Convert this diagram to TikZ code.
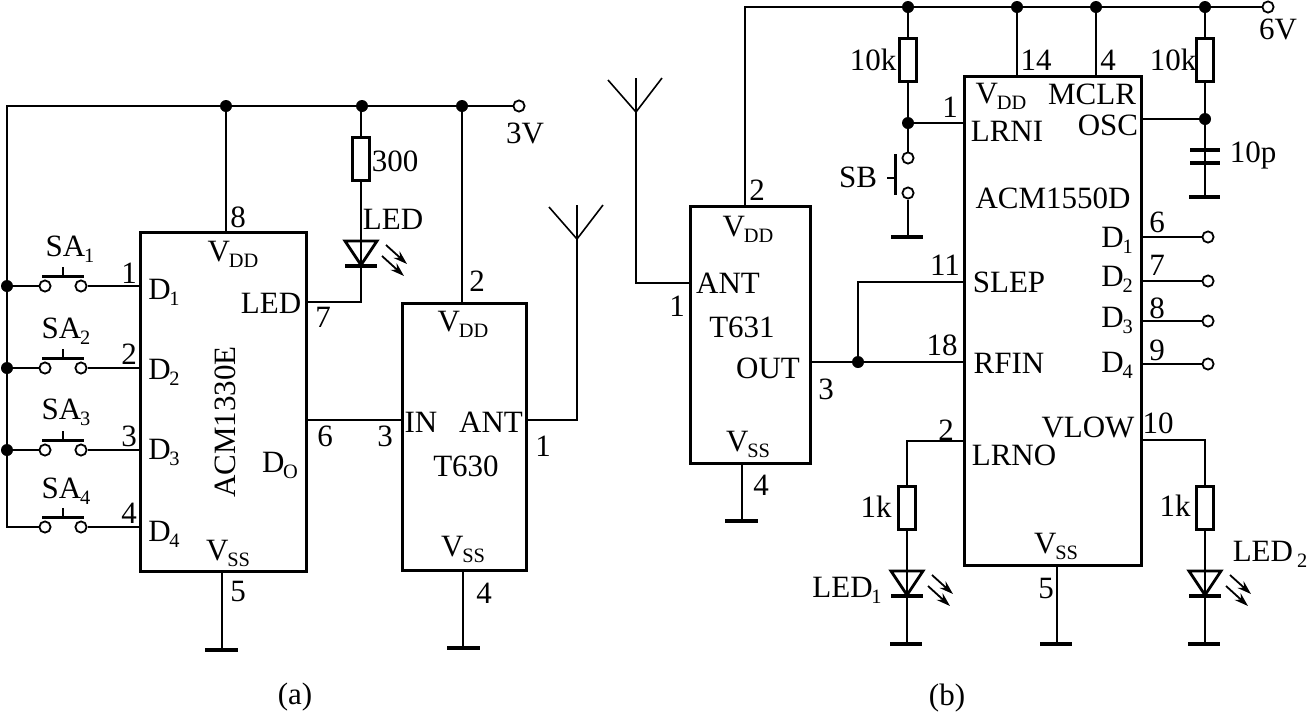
\documentclass[tikz,border=0pt]{standalone}
\usepackage{fontspec}
\setmainfont{Liberation Serif}
\usetikzlibrary{arrows.meta}
\newcommand{\pinsub}[1]{\kern-0.6pt\raisebox{-3pt}{\fontsize{10.2}{11}\selectfont #1}}
\tikzset{
  wire/.style={black,line width=0.8pt},
  chip/.style={draw,black,line width=1.5pt,inner sep=0pt},
  res/.style={draw,black,fill=white,line width=1.5pt,inner sep=0pt,minimum width=8.5pt,minimum height=21.5pt},
  dot/.style={circle,fill=black,inner sep=0pt,minimum size=6pt},
  term/.style={circle,draw,black,fill=white,line width=0.9pt,inner sep=0pt,minimum size=5.6pt},
  txt/.style={inner sep=0pt,font=\fontsize{15.5}{18}\selectfont},
  gnd/.style={black,line width=1.6pt},
  led/.pic={
    \draw[black,line width=1.4pt] (-16,-12) -- (16,-12) -- (0,12) -- cycle;
    \draw[black,line width=1.6pt] (-16,13) -- (16,13);
    \draw[black,line width=0.9pt,-{Stealth[length=7pt,width=4.5pt]}] (25,-8) -- (46,11);
    \draw[black,line width=0.9pt,-{Stealth[length=7pt,width=4.5pt]}] (21,3) -- (43,23);
  },
  pushh/.pic={
    \draw[black,line width=1.5pt] (-21,-10) -- (21,-10);
    \draw[black,line width=0.9pt] (0,-10) -- (0,-19);
  },
  aerial/.pic={
    \draw[black,line width=0.8pt] (-28,-32) -- (0,0) -- (26,-34);
    \draw[black,line width=0.8pt] (0,0) -- (0,-34);
  }
}
\begin{document}
\begin{tikzpicture}[x=0.5pt,y=-0.5pt]
\useasboundingbox (0,0) rectangle (1307,714);
% circuit (a)
\node[chip,minimum width=83pt,minimum height=169.5pt] (ica) at (223,401.5) {};
\node[chip,minimum width=62pt,minimum height=133.5pt] (tx) at (464,436.5) {};
\node[dot] (ta) at (226,106) {};
\node[dot] (tb) at (362,106) {};
\node[dot] (tcc) at (462,106) {};
\node[term] (v3) at (519,106) {};
\node[txt] (v3t) at (525,133) {3V};
\node[dot] (da) at (7,286) {};
\node[dot] (db) at (7,368) {};
\node[dot] (dc) at (7,450) {};
\coordinate (dd) at (7,527);
\node[term] (s1l) at (45,286) {};
\node[term] (s1r) at (81,286) {};
\node[term] (s2l) at (45,368) {};
\node[term] (s2r) at (81,368) {};
\node[term] (s3l) at (45,450) {};
\node[term] (s3r) at (81,450) {};
\node[term] (s4l) at (45,527) {};
\node[term] (s4r) at (81,527) {};
\pic at (63,286) {pushh};
\pic at (63,368) {pushh};
\pic at (63,450) {pushh};
\pic at (63,527) {pushh};
\draw[wire] (v3) -- (7,106) -- (dd) -- (s4l);
\draw[wire] (da) -- (s1l);
\draw[wire] (db) -- (s2l);
\draw[wire] (dc) -- (s3l);
\draw[wire] (s1r) -- (ica.west |- s1r);
\draw[wire] (s2r) -- (ica.west |- s2r);
\draw[wire] (s3r) -- (ica.west |- s3r);
\draw[wire] (s4r) -- (ica.west |- s4r);
\draw[wire] (ta) -- (ta |- ica.north);
\node[res] (r300) at (361,158.5) {};
\coordinate (ledac) at (361,253);
\draw[wire] (361,106) -- (r300);
\draw[wire] (r300) -- (ledac) |- (306,302);
\pic at (ledac) {led};
\draw[wire] (tcc) -- (tcc |- tx.north);
\draw[wire] (306,420) -- (tx.west |- 306,420);
\coordinate (anta) at (577,239);
\pic at (anta) {aerial};
\draw[wire] (526,420) -| (anta);
\coordinate (ga) at (222,650);
\draw[wire] (222,571) -- (ga);
\draw[gnd] (205,650) -- (238,650);
\coordinate (gb) at (463,648);
\draw[wire] (463,570) -- (gb);
\draw[gnd] (447,648) -- (480,648);
% labels of (a)
\node[txt] (sa1) at (70,249) {SA\pinsub{1}};
\node[txt] (sa2) at (66,331) {SA\pinsub{2}};
\node[txt] (sa3) at (66,412) {SA\pinsub{3}};
\node[txt] (sa4) at (66,491) {SA\pinsub{4}};
\node[txt] (a1) at (129,273) {1};
\node[txt] (a2) at (129,354) {2};
\node[txt] (a3) at (129,436) {3};
\node[txt] (a4) at (129,513) {4};
\node[txt] (ad1) at (164,292) {D\pinsub{1}};
\node[txt] (ad2) at (164,372) {D\pinsub{2}};
\node[txt] (ad3) at (164,452) {D\pinsub{3}};
\node[txt] (ad4) at (164,534) {D\pinsub{4}};
\node[txt] (a8) at (238,217) {8};
\node[txt] (avdd) at (233,254) {V\pinsub{DD}};
\node[txt] (aled) at (271,303) {LED};
\node[txt] (a7) at (323,317) {7};
\node[txt] (a6) at (325,436) {6};
\node[txt] (ado) at (280,465) {D\pinsub{O}};
\node[txt,rotate=90] (aname) at (225,422) {ACM1330E};
\node[txt] (avss) at (228,553) {V\pinsub{SS}};
\node[txt] (a5) at (238,591) {5};
\node[txt] (r300t) at (395,161) {300};
\node[txt] (ledt) at (393,219) {LED};
\node[txt] (b2) at (477,281) {2};
\node[txt] (bvdd) at (463,324) {V\pinsub{DD}};
\node[txt] (b3) at (385,436) {3};
\node[txt] (bin) at (421,422) {IN};
\node[txt] (bant) at (491,422) {ANT};
\node[txt] (b1) at (543,446) {1};
\node[txt] (bname) at (466,466) {T630};
\node[txt] (bvss) at (463,549) {V\pinsub{SS}};
\node[txt] (b4) at (484,593) {4};
\node[txt] (capa) at (295,697) {(a)};
% circuit (b)
\node[chip,minimum width=60pt,minimum height=128.5pt] (rx) at (750,334.5) {};
\node[chip,minimum width=88.5pt,minimum height=244.5pt] (icb) at (1052.5,320.5) {};
\coordinate (antb) at (636,112);
\pic at (antb) {aerial};
\draw[wire] (antb) |- (rx.west |- 690,283);
\node[dot] (q1) at (908,7) {};
\node[dot] (q2) at (1017,7) {};
\node[dot] (q3) at (1096,7) {};
\node[dot] (q4) at (1205,7) {};
\node[term] (v6) at (1268,7) {};
\node[txt] (v6t) at (1278,29) {6V};
\draw[wire] (745,206) -- (745,7) -- (v6);
\draw[wire] (q2) -- (q2 |- icb.north);
\draw[wire] (q3) -- (q3 |- icb.north);
\node[res] (r10a) at (908,59.5) {};
\node[res] (r10b) at (1205,59.5) {};
\node[dot] (q5) at (908,123) {};
\node[dot] (q6) at (1205,119) {};
\draw[wire] (q1) -- (r10a);
\draw[wire] (r10a) -- (q5);
\draw[wire] (q4) -- (r10b);
\draw[wire] (r10b) -- (q6);
\draw[wire] (q5) -- (964,123);
\draw[wire] (q6) -- (1141,119);
\node[term] (sbt) at (908,158) {};
\node[term] (sbb) at (908,193) {};
\draw[wire] (q5) -- (sbt);
\draw[wire] (sbb) -- (908,237);
\draw[gnd] (891,237) -- (923,237);
\draw[black,line width=1.5pt] (895,154) -- (895,195);
\draw[black,line width=0.9pt] (887,178) -- (895,178);
\draw[wire] (q6) -- (1205,197);
\draw[gnd] (1190,150) -- (1220,150);
\draw[gnd] (1190,163) -- (1220,163);
\draw[gnd] (1189,197) -- (1220,197);
\node[dot] (q7) at (858,362) {};
\draw[wire] (810,362) -- (964,362);
\draw[wire] (q7) |- (964,282);
\node[term] (o1) at (1208,237) {};
\node[term] (o2) at (1208,281) {};
\node[term] (o3) at (1208,321) {};
\node[term] (o4) at (1208,364) {};
\draw[wire] (1141,237) -- (o1);
\draw[wire] (1141,281) -- (o2);
\draw[wire] (1141,321) -- (o3);
\draw[wire] (1141,364) -- (o4);
\node[res] (r1a) at (907,507.5) {};
\node[res] (r1b) at (1205,507.5) {};
\coordinate (led1) at (907,583);
\coordinate (led2) at (1205,583);
\draw[wire] (964,441) -| (r1a);
\draw[wire] (r1a) -- (907,644);
\draw[wire] (1141,440) -| (r1b);
\draw[wire] (r1b) -- (1205,644);
\pic at (led1) {led};
\pic at (led2) {led};
\draw[gnd] (890,644) -- (922,644);
\draw[gnd] (1188,644) -- (1220,644);
\draw[wire] (1057,565) -- (1057,644);
\draw[gnd] (1040,644) -- (1072,644);
\draw[wire] (742,463) -- (742,521);
\draw[gnd] (725,521) -- (758,521);
% labels of (b)
\node[txt] (c1) at (677,306) {1};
\node[txt] (c2) at (757,190) {2};
\node[txt] (c3) at (826,389) {3};
\node[txt] (c4) at (761,485) {4};
\node[txt] (cvdd) at (748,229) {V\pinsub{DD}};
\node[txt] (cant) at (728,283) {ANT};
\node[txt] (cname) at (742,327) {T631};
\node[txt] (cout) at (768,368) {OUT};
\node[txt] (cvss) at (748,444) {V\pinsub{SS}};
\node[txt] (r10at) at (873,60) {10k};
\node[txt] (r10bt) at (1173,60) {10k};
\node[txt] (sbl) at (858,177) {SB};
\node[txt] (c10p) at (1253,155) {10p};
\node[txt] (d14) at (1036,60) {14};
\node[txt] (d4) at (1108,60) {4};
\node[txt] (d1) at (950,107) {1};
\node[txt] (dvdd) at (1001,96) {V\pinsub{DD}};
\node[txt] (dmclr) at (1092,94) {MCLR};
\node[txt] (dosc) at (1108,125) {OSC};
\node[txt] (dlrni) at (1007,131) {LRNI};
\node[txt] (dname) at (1053,198) {ACM1550D};
\node[txt] (dd1) at (1117,240) {D\pinsub{1}};
\node[txt] (dd2) at (1117,279) {D\pinsub{2}};
\node[txt] (dd3) at (1117,320) {D\pinsub{3}};
\node[txt] (dd4) at (1117,365) {D\pinsub{4}};
\node[txt] (d6) at (1157,222) {6};
\node[txt] (d7) at (1157,265) {7};
\node[txt] (d8) at (1157,308) {8};
\node[txt] (d9) at (1157,350) {9};
\node[txt] (d11) at (945,265) {11};
\node[txt] (d18) at (942,345) {18};
\node[txt] (dslep) at (1009,282) {SLEP};
\node[txt] (drfin) at (1009,363) {RFIN};
\node[txt] (dvlow) at (1088,427) {VLOW};
\node[txt] (d10) at (1158,423) {10};
\node[txt] (d2) at (946,430) {2};
\node[txt] (dlrno) at (1014,455) {LRNO};
\node[txt] (dvss) at (1056,546) {V\pinsub{SS}};
\node[txt] (d5) at (1046,588) {5};
\node[txt] (r1at) at (876,507) {1k};
\node[txt] (r1bt) at (1175,506) {1k};
\node[txt] (led1t) at (847,590) {LED\pinsub{1}};
\node[txt] (led2t) at (1270,554) {LED\,\pinsub{2}};
\node[txt] (capb) at (947,698) {(b)};
\end{tikzpicture}
\end{document}
